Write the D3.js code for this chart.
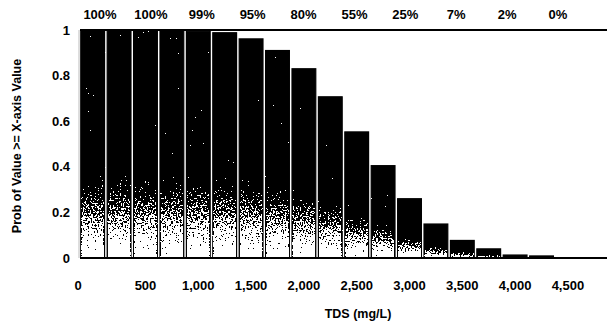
<!DOCTYPE html>
<html>
<head>
<meta charset="utf-8">
<script src="https://cdn.jsdelivr.net/npm/d3@7"></script>
<style>
  body { margin: 0; background: #fff; }
  text { font-family: "Liberation Sans", Arial, sans-serif; font-weight: bold; fill: #000; }
</style>
</head>
<body>
<div id="chart"></div>
<script>
// TDS bins (mg/L, lower edge of each bin)
const bins = [0, 250, 500, 750, 1000, 1250, 1500, 1750, 2000, 2250,
              2500, 2750, 3000, 3250, 3500, 3750, 4000, 4250, 4500, 4750];
// probability of value >= bin
const probs = [1, 1, 1, 1, 0.995, 0.988, 0.961, 0.91, 0.83, 0.707,
               0.553, 0.405, 0.26, 0.149, 0.077, 0.04, 0.013, 0.009, 0, 0];
const topLabels = ['100%', '100%', '99%', '95%', '80%', '55%', '25%', '7%', '2%', '0%'];
const xTicks = [0, 500, 1000, 1500, 2000, 2500, 3000, 3500, 4000, 4500];
const yTicks = [0, 0.2, 0.4, 0.6, 0.8, 1];

const W = 609, H = 328;
const margin = { top: 30, right: 2, bottom: 70, left: 80 };

const svg = d3.select('#chart').append('svg')
  .attr('width', W)
  .attr('height', H);

const x = d3.scaleBand()
  .domain(bins)
  .range([margin.left, W - margin.right])
  .paddingInner(0.1)
  .paddingOuter(0.03);

const y = d3.scaleLinear()
  .domain([0, 1])
  .range([H - margin.bottom, margin.top]);

const defs = svg.append('defs');

// gradient: black on top fading to white near the base of each bar
const grad = defs.append('linearGradient')
  .attr('id', 'barFill')
  .attr('x1', 0).attr('y1', 0).attr('x2', 0).attr('y2', 1);
grad.append('stop').attr('offset', '0').attr('stop-color', '#000');
grad.append('stop').attr('offset', '0.62').attr('stop-color', '#000');
grad.append('stop').attr('offset', '1').attr('stop-color', '#fff');

// dither the gradient a bit like the scanned print
const dither = defs.append('filter')
  .attr('id', 'dither')
  .attr('x', 0).attr('y', 0).attr('width', 1).attr('height', 1)
  .attr('color-interpolation-filters', 'sRGB');
dither.append('feTurbulence')
  .attr('type', 'fractalNoise')
  .attr('baseFrequency', 0.6)
  .attr('numOctaves', 2)
  .attr('seed', 3)
  .attr('result', 'noise');
dither.append('feColorMatrix')
  .attr('in', 'noise')
  .attr('type', 'matrix')
  .attr('values', '1 0 0 0 0  1 0 0 0 0  1 0 0 0 0  0 0 0 0 1')
  .attr('result', 'gray');
dither.append('feComposite')
  .attr('in', 'SourceGraphic')
  .attr('in2', 'gray')
  .attr('operator', 'arithmetic')
  .attr('k1', 0).attr('k2', 1).attr('k3', 1.5).attr('k4', -0.75)
  .attr('result', 'mix');
const ct = dither.append('feComponentTransfer')
  .attr('in', 'mix')
  .attr('result', 'bw');
['feFuncR', 'feFuncG', 'feFuncB'].forEach(f => ct.append(f).attr('type', 'discrete').attr('tableValues', '0 1'));
ct.append('feFuncA').attr('type', 'linear').attr('slope', 0).attr('intercept', 1);
dither.append('feComposite')
  .attr('in', 'bw')
  .attr('in2', 'SourceGraphic')
  .attr('operator', 'in');

// faint left axis line
svg.append('line')
  .attr('x1', margin.left - 1).attr('x2', margin.left - 1)
  .attr('y1', y(1)).attr('y2', y(0))
  .attr('stroke', '#bbb')
  .attr('stroke-width', 1);

// bars
svg.append('g')
  .attr('filter', 'url(#dither)')
  .selectAll('rect')
  .data(bins.map((b, i) => ({ bin: b, p: probs[i] })).filter(d => d.p > 0))
  .join('rect')
  .attr('x', d => x(d.bin))
  .attr('y', d => y(d.p))
  .attr('width', x.bandwidth())
  .attr('height', d => y(0) - y(d.p))
  .attr('fill', 'url(#barFill)')
  .attr('stroke', '#000')
  .attr('stroke-width', 1.2);

// top line at 1 and base axis line at 0
[1, 0].forEach(v => {
  svg.append('line')
    .attr('x1', margin.left).attr('x2', W - margin.right)
    .attr('y1', y(v)).attr('y2', y(v))
    .attr('stroke', '#000')
    .attr('stroke-width', 2);
});

// y axis labels
svg.append('g')
  .selectAll('text')
  .data(yTicks)
  .join('text')
  .attr('x', 70)
  .attr('y', d => y(d))
  .attr('dy', '0.35em')
  .attr('text-anchor', 'end')
  .attr('font-size', 13)
  .text(d => d3.format('~g')(d));

// top percentage labels (every other bin)
const xTop = d3.scalePoint()
  .domain(d3.range(topLabels.length))
  .range([100, 558]);
svg.append('g')
  .selectAll('text')
  .data(topLabels)
  .join('text')
  .attr('x', (d, i) => xTop(i))
  .attr('y', 19)
  .attr('text-anchor', 'middle')
  .attr('font-size', 13)
  .text(d => d);

// bottom TDS labels
const fmt = d3.format(',');
svg.append('g')
  .selectAll('text')
  .data(xTicks)
  .join('text')
  .attr('x', d => d === 0 ? margin.left - 2 : x(d) + x.bandwidth() / 2)
  .attr('y', 290)
  .attr('text-anchor', 'middle')
  .attr('font-size', 13)
  .text(d => fmt(d));

// axis titles
svg.append('text')
  .attr('x', 358)
  .attr('y', 318)
  .attr('text-anchor', 'middle')
  .attr('font-size', 12.5)
  .text('TDS (mg/L)');

svg.append('text')
  .attr('transform', 'translate(21,146) rotate(-90)')
  .attr('text-anchor', 'middle')
  .attr('font-size', 12.5)
  .text('Prob of Value >= X-axis Value');
</script>
</body>
</html>
